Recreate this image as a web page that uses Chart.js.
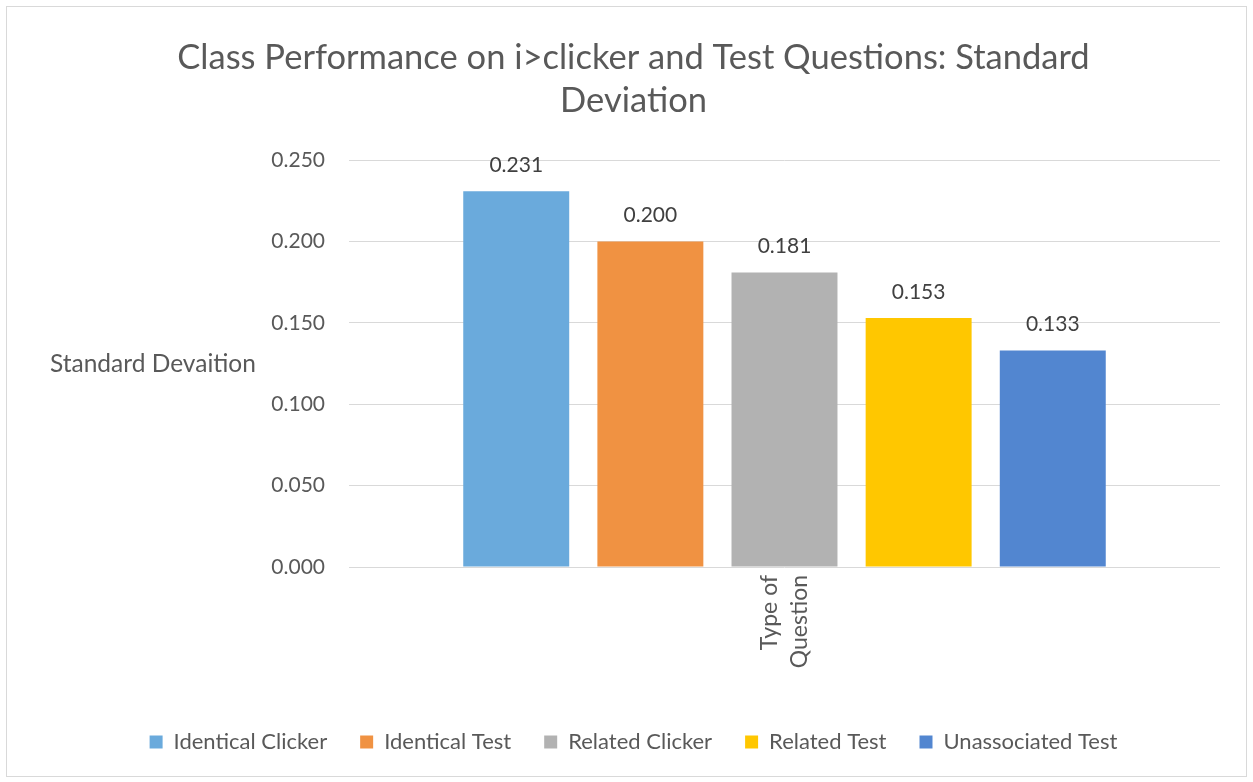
<!DOCTYPE html>
<html>
<head>
<meta charset="utf-8">
<script src="https://cdn.jsdelivr.net/npm/chart.js@4.4.1/dist/chart.umd.min.js"></script>
<style>
    body { margin: 0; background: #fff; }
    #marco {
        position: absolute;
        left: 6px;
        top: 6px;
        width: 1239px;
        height: 769px;
        border: 1px solid #d9d9d9;
    }
</style>
</head>
<body>
<div id="marco"><canvas id="miGrafico"></canvas></div>
<script>
// Class performance: standard deviation per question type

const categorias = [['Type of', 'Question']];
const series = ['Identical Clicker', 'Identical Test', 'Related Clicker', 'Related Test', 'Unassociated Test'];
const valores = [0.231, 0.200, 0.181, 0.153, 0.133];
const colores = ['#6aaadc', '#f09242', '#b2b2b2', '#ffc700', '#5286d0'];
const ticksY = [0, 0.05, 0.10, 0.15, 0.20, 0.25];

const FUENTE = 'Lato, "Open Sans", sans-serif';
const GRIS = '#595959';

// etiquetas de valor encima de cada barra
const etiquetasBarras = {
    id: 'etiquetasBarras',
    afterDatasetsDraw: function(chart) {
        const ctx = chart.ctx;
        ctx.save();
        ctx.font = '21px ' + FUENTE;
        ctx.fillStyle = '#404040';
        ctx.textAlign = 'center';
        ctx.textBaseline = 'middle';
        chart.data.datasets.forEach((ds, i) => {
            chart.getDatasetMeta(i).data.forEach((bar, j) => {
                ctx.fillText(ds.data[j].toFixed(3), bar.x, bar.y - 26);
            });
        });
        ctx.restore();
    }
};

// titulo del eje Y, horizontal como en el original
const tituloEjeY = {
    id: 'tituloEjeY',
    afterDraw: function(chart) {
        const ctx = chart.ctx;
        const area = chart.chartArea;
        ctx.save();
        ctx.font = '24.5px ' + FUENTE;
        ctx.fillStyle = GRIS;
        ctx.textAlign = 'left';
        ctx.textBaseline = 'middle';
        ctx.fillText('Standard Devaition', 43, (area.top + area.bottom) / 2);
        ctx.restore();
    }
};

document.addEventListener('DOMContentLoaded', () => {
    const ctx = document.getElementById('miGrafico').getContext('2d');

    const datasets = series.map((nombre, i) => ({
        label: nombre,
        data: [valores[i]],
        backgroundColor: colores[i],
        borderWidth: 0,
        categoryPercentage: 0.77,
        barPercentage: 0.79
    }));

    new Chart(ctx, {
        type: 'bar',
        data: {
            labels: categorias,
            datasets: datasets
        },
        plugins: [etiquetasBarras, tituloEjeY],
        options: {
            responsive: true,
            maintainAspectRatio: false,
            animation: false,
            layout: {
                padding: { left: 14, right: 0, top: 0, bottom: 13 }
            },
            plugins: {
                title: {
                    display: true,
                    text: ['Class Performance on i>clicker and Test Questions: Standard', 'Deviation'],
                    color: GRIS,
                    font: { family: FUENTE, size: 34.5, weight: 'normal', lineHeight: 1.25 },
                    padding: { top: 29, bottom: 38 }
                },
                legend: {
                    display: true,
                    position: 'bottom',
                    labels: {
                        boxWidth: 13,
                        boxHeight: 13,
                        padding: 33,
                        color: GRIS,
                        font: { family: FUENTE, size: 22 }
                    }
                },
                tooltip: { enabled: false }
            },
            scales: {
                x: {
                    grid: { display: false },
                    border: { display: false },
                    ticks: {
                        minRotation: 90,
                        maxRotation: 90,
                        autoSkip: false,
                        padding: 0,
                        labelOffset: -15,
                        color: GRIS,
                        font: { family: FUENTE, size: 23, lineHeight: 1.3 }
                    },
                    afterFit: function(scale) {
                        scale.height = 131;
                    }
                },
                y: {
                    min: 0,
                    max: 0.25,
                    afterBuildTicks: function(scale) {
                        scale.ticks = ticksY.map(v => ({ value: v }));
                    },
                    afterFit: function(scale) {
                        scale.width = 328;
                    },
                    grid: {
                        color: '#d9d9d9',
                        lineWidth: 1,
                        drawTicks: false
                    },
                    border: { display: false },
                    ticks: {
                        padding: 24,
                        color: GRIS,
                        font: { family: FUENTE, size: 21 },
                        callback: function(v) {
                            return Number(v).toFixed(3);
                        }
                    }
                },
                // eje vacio a la derecha, solo reserva el margen
                margen: {
                    position: 'right',
                    display: true,
                    grid: { display: false },
                    border: { display: false },
                    ticks: { display: false },
                    afterFit: function(scale) {
                        scale.width = 26;
                    }
                }
            }
        }
    });
});
</script>
</body>
</html>
